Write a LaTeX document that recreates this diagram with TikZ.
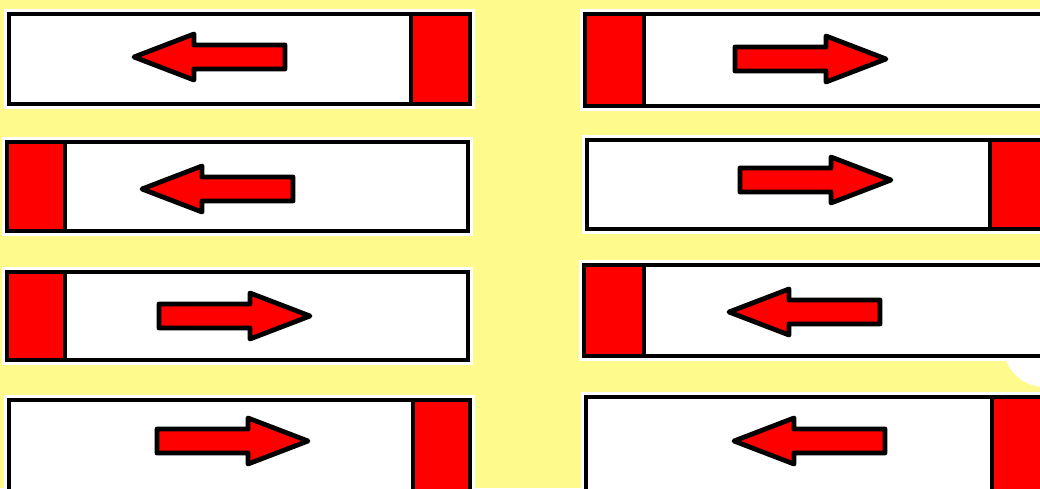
\documentclass[tikz,border=0pt]{standalone}
\definecolor{padyellow}{HTML}{FFFA8C}
\tikzset{
  pics/pusharrow/.style={code={
    \draw[arrowbody] (-75,-12) -- (16,-12) -- (16,-23) -- (76,0) -- (16,23) -- (16,12) -- (-75,12) -- cycle;
  }}
}
\begin{document}
\begin{tikzpicture}[x=0.25mm,y=-0.25mm,line width=1.2mm,
  slab/.style={draw=black,fill=white,preaction={draw=white,line width=2.4mm}},
  stopper/.style={fill=red},
  arrowbody/.style={draw=black,fill=red,line join=round}]
\useasboundingbox (0,0) rectangle (1040,488);
\clip (0,0) rectangle (1040,488);
\fill[padyellow] (0,0) rectangle (1040,488);
\fill[white] (1045,345) circle[radius=42];
\path[slab] (9,14) rectangle (470,104);
\fill[stopper] (411,14) rectangle (470,104);
\draw (411,14) -- (411,104) (9,14) rectangle (470,104);
\pic[xscale=-1] (arrA) at (210,57) {pusharrow};
\path[slab] (585,14) rectangle (1060,106);
\fill[stopper] (585,14) rectangle (644,106);
\draw (644,14) -- (644,106) (585,14) rectangle (1060,106);
\pic (arrB) at (810,59) {pusharrow};
\path[slab] (7,142) rectangle (468,231);
\fill[stopper] (7,142) rectangle (65,231);
\draw (65,142) -- (65,231) (7,142) rectangle (468,231);
\pic[xscale=-1] (arrC) at (218,189) {pusharrow};
\path[slab] (587,140) rectangle (1060,229);
\fill[stopper] (990,140) rectangle (1060,229);
\draw (990,140) -- (990,229) (587,140) rectangle (1060,229);
\pic (arrD) at (815,180) {pusharrow};
\path[slab] (7,272) rectangle (468,360);
\fill[stopper] (7,272) rectangle (65,360);
\draw (65,272) -- (65,360) (7,272) rectangle (468,360);
\pic (arrE) at (234,316) {pusharrow};
\path[slab] (584,265) rectangle (1060,356);
\fill[stopper] (584,265) rectangle (644,356);
\draw (644,265) -- (644,356) (584,265) rectangle (1060,356);
\pic[xscale=-1] (arrF) at (805,312) {pusharrow};
\path[slab] (9,400) rectangle (470,500);
\fill[stopper] (413,400) rectangle (470,500);
\draw (413,400) -- (413,500) (9,400) rectangle (470,500);
\pic (arrG) at (232,441) {pusharrow};
\path[slab] (586,397) rectangle (1060,500);
\fill[stopper] (992,397) rectangle (1060,500);
\draw (992,397) -- (992,500) (586,397) rectangle (1060,500);
\pic[xscale=-1] (arrH) at (810,441) {pusharrow};
\end{tikzpicture}
\end{document}
